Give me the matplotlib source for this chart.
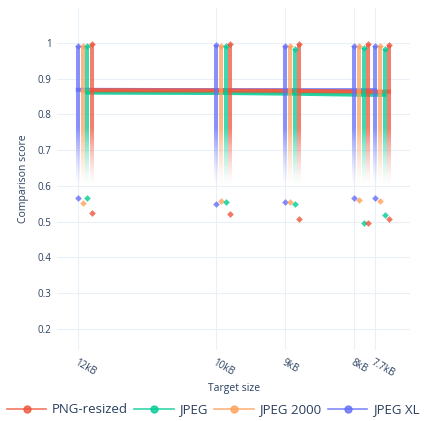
import numpy as np
import matplotlib
matplotlib.use('Agg')
import matplotlib.pyplot as plt
from matplotlib.collections import LineCollection
from matplotlib.lines import Line2D

plt.rcParams['font.family'] = ['Open Sans', 'DejaVu Sans']

# target sizes in kB
sizes = [12, 10, 9, 8, 7.7]
size_labels = ['12kB', '10kB', '9kB', '8kB', '7.7kB']
codecs = ['PNG-resized', 'JPEG', 'JPEG 2000', 'JPEG XL']
colors = ['#EF553B', '#00CC96', '#FFA15A', '#636EFA']

# max / min / mean comparison score per codec and target size
score_max = {
    'PNG-resized': [0.998, 0.998, 0.998, 0.998, 0.995],
    'JPEG': [0.992, 0.991, 0.984, 0.985, 0.983],
    'JPEG 2000': [0.992, 0.993, 0.992, 0.992, 0.992],
    'JPEG XL': [0.992, 0.994, 0.993, 0.993, 0.992],
}
score_min = {
    'PNG-resized': [0.524, 0.521, 0.506, 0.497, 0.508],
    'JPEG': [0.567, 0.556, 0.550, 0.495, 0.519],
    'JPEG 2000': [0.552, 0.558, 0.555, 0.561, 0.558],
    'JPEG XL': [0.567, 0.549, 0.554, 0.566, 0.567],
}
score_mean = {
    'PNG-resized': [0.868, 0.867, 0.866, 0.864, 0.864],
    'JPEG': [0.861, 0.860, 0.858, 0.855, 0.855],
    'JPEG 2000': [0.865, 0.864, 0.863, 0.861, 0.861],
    'JPEG XL': [0.869, 0.868, 0.868, 0.868, 0.868],
}

# small sideways shift so the codecs don't sit on top of each other
dodge = {'JPEG XL': 0.0, 'JPEG 2000': -0.072, 'JPEG': -0.138, 'PNG-resized': -0.203}
text_col = '#2a3f5f'
grid_col = '#EBF0F8'

fig = plt.figure(figsize=(4.26, 4.21), dpi=100)
ax = fig.add_axes([0.134, 0.169, 0.829, 0.812])

fade_lo, fade_hi = 0.60, 0.76

# mean lines first, bars drawn over them
for name in ['JPEG XL', 'JPEG 2000', 'JPEG', 'PNG-resized']:
    col = colors[codecs.index(name)]
    xs = np.array(sizes) + dodge[name]
    ax.plot(xs, score_mean[name], color=col, lw=2.9, alpha=0.85, zorder=2)

for name in ['JPEG XL', 'JPEG 2000', 'JPEG', 'PNG-resized']:
    col = colors[codecs.index(name)]
    xs = np.array(sizes) + dodge[name]
    for x, top in zip(xs, score_max[name]):
        ys = np.linspace(fade_lo, top, 80)
        segs = [[(x, ys[i]), (x, ys[i + 1])] for i in range(len(ys) - 1)]
        t = np.clip((ys[:-1] - fade_lo) / (fade_hi - fade_lo), 0, 1)
        rgba = np.array([matplotlib.colors.to_rgba(col)] * len(segs))
        rgba[:, 3] = 0.75 * t ** 1.4
        ax.add_collection(LineCollection(segs, colors=rgba, linewidths=2.9,
                                         capstyle='butt', zorder=3))
    ax.plot(xs, score_max[name], 'D', color=col, ms=3.4, alpha=0.8, mew=0, zorder=4)
    ax.plot(xs, score_min[name], 'D', color=col, ms=3.4, alpha=0.8, mew=0, zorder=4)

ax.set_xlim(12.30, 7.19)
ax.set_ylim(0.141, 1.098)
ax.set_xticks(sizes)
ax.set_xticklabels(size_labels, rotation=-30, ha='left', va='top',
                   rotation_mode='anchor', fontsize=7, color=text_col)
yt = [0.2, 0.3, 0.4, 0.5, 0.6, 0.7, 0.8, 0.9, 1.0]
ax.set_yticks(yt)
ax.set_yticklabels(['0.2', '0.3', '0.4', '0.5', '0.6', '0.7', '0.8', '0.9', '1'],
                   fontsize=7, color=text_col)
ax.tick_params(axis='y', length=0, pad=4)
ax.tick_params(axis='x', length=0, pad=5)
ax.grid(True, color=grid_col, lw=0.8)
ax.set_axisbelow(True)
for s in ax.spines.values():
    s.set_visible(False)

ax.set_xlabel('Target size', fontsize=7.5, color=text_col, labelpad=3)
ax.set_ylabel('Comparison score', fontsize=7.5, color=text_col, labelpad=6)

handles = [Line2D([0], [0], color=c, lw=1.2, marker='o', ms=5, alpha=0.8)
           for c in colors]
fig.legend(handles, codecs, loc='center', bbox_to_anchor=(0.5, 0.027), ncol=4,
           frameon=False, fontsize=9.5, handlelength=3.0, handletextpad=0.4,
           columnspacing=0.5, labelcolor=text_col)

fig.savefig('out.png', dpi=100)
